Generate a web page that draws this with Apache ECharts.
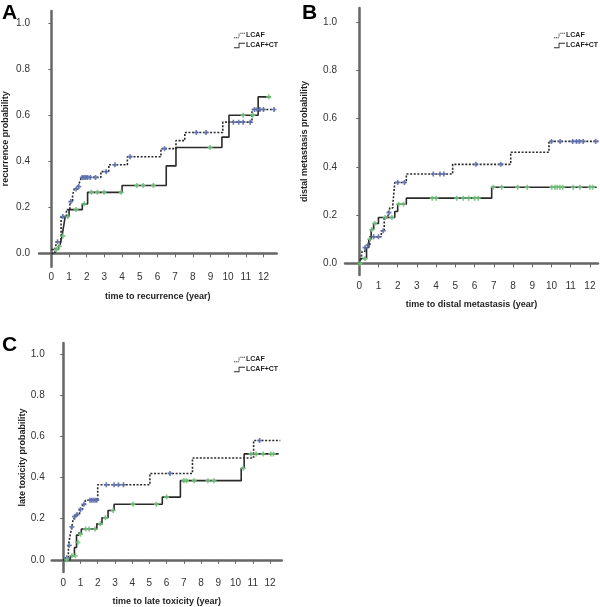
<!DOCTYPE html>
<html>
<head>
<meta charset="utf-8">
<script src="https://cdn.jsdelivr.net/npm/echarts@6/dist/echarts.min.js"></script>
<style>html,body{margin:0;padding:0;background:#fff;}#c{width:600px;height:607px;}</style>
</head>
<body>
<div id="c"></div>
<script>
// ---------- data (time in years, cumulative probability) ----------
const yTicks = [0, 0.2, 0.4, 0.6, 0.8, 1.0];
const xTicks = [0,1,2,3,4,5,6,7,8,9,10,11,12];

// Panel A: recurrence
const aLcaf = [[0,0],[0.2,0.017],[0.3,0.05],[0.55,0.16],[0.85,0.19],[1.05,0.225],[1.2,0.255],[1.3,0.28],[1.5,0.29],[1.6,0.31],[1.7,0.33],[2.8,0.355],[3.25,0.385],[4.3,0.42],[6.2,0.455],[7.05,0.49],[7.55,0.525],[9.7,0.57],[11.35,0.625],[12.6,0.625]];
const aLcafCt = [[0,0.017],[0.4,0.03],[0.5,0.04],[0.6,0.075],[0.7,0.12],[0.78,0.16],[1.0,0.19],[1.75,0.215],[2.05,0.265],[4.0,0.295],[6.5,0.38],[7.05,0.46],[9.65,0.505],[10.05,0.6],[11.7,0.68],[12.4,0.68]];
const aLcafCens = [[0.35,0.05],[0.65,0.16],[1.1,0.225],[1.4,0.28],[1.55,0.29],[1.75,0.33],[1.85,0.33],[1.95,0.33],[2.05,0.33],[2.2,0.33],[2.5,0.33],[3.1,0.355],[3.6,0.385],[4.45,0.42],[6.4,0.455],[8.2,0.525],[8.75,0.525],[10.3,0.57],[10.6,0.57],[10.85,0.57],[11.25,0.57],[11.5,0.625],[11.65,0.625],[11.8,0.625],[12.0,0.625],[12.6,0.625]];
const aLcafCtCens = [[0.28,0.017],[0.45,0.03],[0.65,0.075],[0.93,0.16],[1.4,0.19],[1.86,0.215],[2.27,0.265],[2.6,0.265],[2.98,0.265],[3.95,0.265],[4.84,0.295],[5.2,0.295],[5.77,0.295],[8.98,0.46],[10.85,0.6],[11.4,0.6],[12.3,0.68]];

// Panel B: distal metastasis
const bLcaf = [[0,0],[0.1,0.02],[0.15,0.05],[0.3,0.065],[0.4,0.075],[0.55,0.11],[1.15,0.135],[1.3,0.19],[1.5,0.21],[1.6,0.23],[1.75,0.245],[1.85,0.335],[2.45,0.37],[4.86,0.41],[7.88,0.46],[9.87,0.505],[12.44,0.505]];
const bLcafCt = [[0,0],[0.08,0.02],[0.38,0.066],[0.5,0.1],[0.62,0.14],[0.75,0.165],[1.0,0.19],[1.85,0.215],[2.0,0.245],[2.45,0.27],[6.89,0.315],[12.35,0.315]];
const bLcafCens = [[0.3,0.065],[0.45,0.075],[0.75,0.11],[1.0,0.11],[1.25,0.135],[1.55,0.21],[2.0,0.335],[2.35,0.335],[3.85,0.37],[4.2,0.37],[4.4,0.37],[6.07,0.41],[7.36,0.41],[10.0,0.505],[10.45,0.505],[11.1,0.505],[11.3,0.505],[11.45,0.505],[11.65,0.505],[12.3,0.505]];
const bLcafCtCens = [[0.05,0],[0.3,0.02],[0.55,0.1],[0.65,0.14],[0.8,0.165],[1.35,0.19],[1.7,0.19],[2.05,0.245],[2.3,0.245],[3.8,0.27],[4.0,0.27],[5.07,0.27],[5.41,0.27],[5.69,0.27],[6.0,0.27],[6.19,0.27],[6.97,0.315],[7.41,0.315],[8.24,0.315],[8.74,0.315],[10.01,0.315],[10.18,0.315],[10.3,0.315],[10.44,0.315],[10.58,0.315],[11.13,0.315],[11.48,0.315],[12.0,0.315],[12.14,0.315]];

// Panel C: late toxicity
const cLcaf = [[0,0],[0.15,0.01],[0.3,0.07],[0.4,0.12],[0.5,0.16],[0.58,0.2],[0.7,0.22],[0.95,0.245],[1.12,0.27],[1.28,0.29],[2.0,0.365],[5.03,0.42],[7.5,0.495],[11.05,0.58],[12.6,0.58]];
const cLcafCt = [[0,0],[0.4,0.01],[0.45,0.02],[0.65,0.06],[0.77,0.12],[0.9,0.13],[1.05,0.15],[1.95,0.175],[2.25,0.205],[2.6,0.24],[2.95,0.27],[5.75,0.305],[6.8,0.385],[10.33,0.445],[10.5,0.515],[12.5,0.515]];
const cLcafCens = [[0.2,0.01],[0.35,0.07],[0.5,0.16],[0.65,0.21],[0.8,0.22],[1.0,0.245],[1.2,0.27],[1.55,0.29],[1.65,0.29],[1.75,0.29],[1.85,0.29],[1.95,0.29],[2.5,0.365],[2.95,0.365],[3.2,0.365],[3.5,0.365],[6.2,0.42],[11.4,0.58]];
const cLcafCtCens = [[0.2,0],[0.5,0.02],[0.7,0.02],[0.85,0.085],[1.0,0.125],[1.3,0.15],[1.5,0.15],[1.85,0.15],[2.15,0.175],[2.45,0.205],[2.9,0.24],[4.05,0.27],[5.4,0.27],[6.0,0.305],[7.0,0.385],[7.15,0.385],[7.6,0.385],[8.4,0.385],[8.75,0.385],[10.45,0.445],[10.9,0.515],[11.2,0.515],[11.6,0.515],[12.05,0.515],[12.2,0.515]];

const xTitles = ['time to recurrence (year)', 'time to distal metastasis (year)', 'time to late toxicity (year)'];
const yTitles = ['recurrence probability', 'distal metastasis probability', 'late toxicity probability'];
const panelLetters = ['A', 'B', 'C'];
const seriesNames = ['LCAF', 'LCAF+CT'];

// ---------- layout ----------
const grids = [
  {left: 35.7, top: 11, width: 241, height: 255.7},
  {left: 345, top: 8, width: 253, height: 267},
  {left: 51.7, top: 343, width: 230, height: 232}
];
const xRanges = [[-0.7, 12.75], [-0.74, 12.42], [-0.67, 12.68]];
const yRanges = [[-0.058, 1.053], [-0.048, 1.057], [-0.059, 1.054]];
const yNameGaps = [29, 36, 25];
const yLabelMargins = [9, 8, 7];
const legendPos = [{left: 234, top: 32}, {left: 554, top: 32}, {left: 234, top: 356}];
const letterPos = [[2, 3], [302, 3], [2, 335]];

const FONT = 'Liberation Sans, Arial, sans-serif';
const plus = 'path://M2,0H4V2H6V4H4V6H2V4H0V2H2Z';
const iconSolid = 'path://M0,5H5V0H12V1H6V6H0Z';
const iconDotted = 'path://M0,5h1.2v1h-1.2zM2,5h1.2v1h-1.2zM4,5h1.2v1h-1.2zM5,2.8h1v1.2h-1zM5,0.8h1v1.2h-1zM7,0h1.2v1h-1.2zM9,0h1.2v1h-1.2zM11,0h1v1h-1z';
const lineCol = '#2a2a2a';
const blue = '#5d6fae';
const green = '#72c27c';

const panels = [
  [aLcaf, aLcafCt, aLcafCens, aLcafCtCens],
  [bLcaf, bLcafCt, bLcafCens, bLcafCtCens],
  [cLcaf, cLcafCt, cLcafCens, cLcafCtCens]
];

const xAxes = [], yAxes = [], series = [], legends = [], graphics = [];
panels.forEach((p, i) => {
  xAxes.push({
    type: 'value', gridIndex: i, min: xRanges[i][0], max: xRanges[i][1],
    name: xTitles[i], nameLocation: 'middle', nameGap: 25,
    nameTextStyle: {fontFamily: FONT, fontWeight: 'bold', fontSize: 9, color: '#222'},
    axisLine: {show: true, lineStyle: {color: '#666', width: 2.5}},
    axisTick: {show: true, customValues: xTicks, length: 4, lineStyle: {color: '#666'}},
    axisLabel: {customValues: xTicks, fontFamily: FONT, fontSize: 10, color: '#333', margin: 6,
      formatter: v => String(Math.round(v))},
    splitLine: {show: false}
  });
  yAxes.push({
    type: 'value', gridIndex: i, min: yRanges[i][0], max: yRanges[i][1],
    name: yTitles[i], nameLocation: 'middle', nameGap: yNameGaps[i],
    nameTextStyle: {fontFamily: FONT, fontWeight: 'bold', fontSize: 9, color: '#222'},
    axisLine: {show: true, lineStyle: {color: '#666', width: 2.5}},
    axisTick: {show: true, customValues: yTicks, length: 3, lineStyle: {color: '#666'}},
    axisLabel: {customValues: yTicks, fontFamily: FONT, fontSize: 10, color: '#333', margin: yLabelMargins[i],
      formatter: v => v.toFixed(1)},
    splitLine: {show: false}
  });
  series.push({
    name: seriesNames[0], type: 'line', step: 'end', xAxisIndex: i, yAxisIndex: i,
    data: p[0], symbol: 'none', lineStyle: {color: lineCol, width: 1.6, type: [2, 1.6]},
    itemStyle: {color: lineCol}, z: 2, animation: false
  });
  series.push({
    name: seriesNames[1], type: 'line', step: 'end', xAxisIndex: i, yAxisIndex: i,
    data: p[1], symbol: 'none', lineStyle: {color: lineCol, width: 1.6, type: 'solid'},
    itemStyle: {color: lineCol}, z: 2, animation: false
  });
  series.push({
    name: 'LCAF censored', type: 'scatter', xAxisIndex: i, yAxisIndex: i,
    data: p[2], symbol: plus, symbolSize: 5, itemStyle: {color: blue, opacity: 0.9}, z: 3, animation: false
  });
  series.push({
    name: 'LCAF+CT censored', type: 'scatter', xAxisIndex: i, yAxisIndex: i,
    data: p[3], symbol: plus, symbolSize: 5, itemStyle: {color: green, opacity: 0.9}, z: 3, animation: false
  });
  legends.push(Object.assign({
    data: [{name: seriesNames[0], icon: iconDotted}, {name: seriesNames[1], icon: iconSolid}],
    orient: 'vertical', itemWidth: 11, itemHeight: 6, itemGap: 3, padding: 0,
    selectedMode: false,
    itemStyle: {color: lineCol, borderWidth: 0},
    textStyle: {fontFamily: FONT, fontSize: 7, fontWeight: 'bold', color: '#222', padding: [0, 0, 0, -4]}
  }, legendPos[i]));
  graphics.push({
    type: 'text', left: letterPos[i][0], top: letterPos[i][1],
    style: {text: panelLetters[i], font: 'bold 21px ' + FONT, fill: '#000'}
  });
});

const chart = echarts.init(document.getElementById('c'), null, {renderer: 'canvas'});
chart.setOption({
  animation: false,
  backgroundColor: '#fff',
  grid: grids,
  xAxis: xAxes,
  yAxis: yAxes,
  legend: legends,
  series: series,
  graphic: graphics
});
</script>
</body>
</html>
